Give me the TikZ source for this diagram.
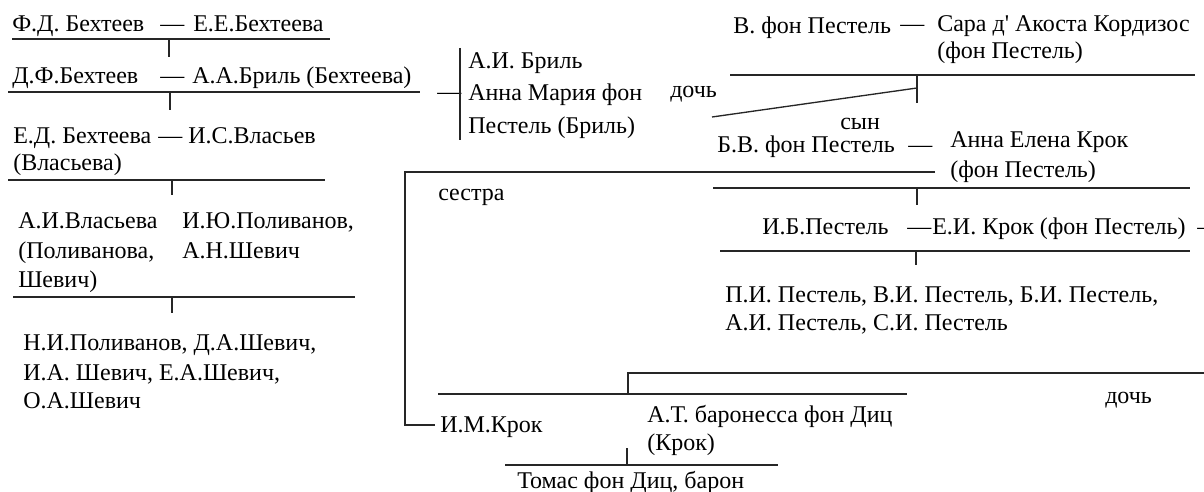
\documentclass[tikz,border=0pt]{standalone}
\usepackage{fontspec}
\setmainfont{Liberation Serif}[Ligatures=TeXOff]
\begin{document}
\begin{tikzpicture}[x=0.75pt,y=-0.75pt,
  txt/.style={anchor=base west,inner sep=0pt,font=\fontsize{18pt}{21pt}\selectfont,text=black},
  bar/.style={line width=1.3pt,draw=black!85}]
\useasboundingbox (0,0) rectangle (1204,492);
\clip (0,0) rectangle (1204,492);
% ---- Bekhteev line (left column)
\node[txt] (fd) at (12,32) {Ф.Д. Бехтеев};
\node[txt] (fdd) at (160,32) {—};
\node[txt] (ee) at (193,32) {Е.Е.Бехтеева};
\coordinate (l1a) at (12,39); \coordinate (l1b) at (330,39);
\coordinate (t1a) at (169,39); \coordinate (t1b) at (169,57);
\draw[bar] (l1a) -- (l1b); \draw[bar] (t1a) -- (t1b);
\node[txt] (df) at (12,84) {Д.Ф.Бехтеев};
\node[txt] (dfd) at (160,84) {—};
\node[txt] (aab) at (192,84) {А.А.Бриль (Бехтеева)};
\coordinate (l2a) at (8,92); \coordinate (l2b) at (420,92);
\coordinate (t2a) at (170,92); \coordinate (t2b) at (170,110);
\draw[bar] (l2a) -- (l2b); \draw[bar] (t2a) -- (t2b);
\node[txt] (ed) at (13,143) {Е.Д. Бехтеева};
\node[txt] (edd) at (158,143) {—};
\node[txt] (isv) at (188,143) {И.С.Власьев};
\node[txt] (ed2) at (13,171) {(Власьева)};
\coordinate (l3a) at (8,180); \coordinate (l3b) at (325,180);
\coordinate (t3a) at (172,180); \coordinate (t3b) at (172,195);
\draw[bar] (l3a) -- (l3b); \draw[bar] (t3a) -- (t3b);
\node[txt] (aiv1) at (18,228) {А.И.Власьева};
\node[txt] (aiv2) at (18,258) {(Поливанова,};
\node[txt] (aiv3) at (18,287) {Шевич)};
\node[txt] (iyp1) at (182,228) {И.Ю.Поливанов,};
\node[txt] (iyp2) at (182,258) {А.Н.Шевич};
\coordinate (l4a) at (13,297); \coordinate (l4b) at (355,297);
\coordinate (t4a) at (172,297); \coordinate (t4b) at (172,313);
\draw[bar] (l4a) -- (l4b); \draw[bar] (t4a) -- (t4b);
\node[txt] (ch1) at (23,350) {Н.И.Поливанов, Д.А.Шевич,};
\node[txt] (ch2) at (23,380) {И.А. Шевич, Е.А.Шевич,};
\node[txt] (ch3) at (23,408) {О.А.Шевич};
% ---- Bril
\node[txt] (brd) at (437,99) {—};
\coordinate (bva) at (460,48); \coordinate (bvb) at (460,140);
\draw[bar] (bva) -- (bvb);
\node[txt] (aib) at (468,69) {А.И. Бриль};
\node[txt] (amp1) at (468,101) {Анна Мария фон};
\node[txt] (amp2) at (468,133) {Пестель (Бриль)};
\node[txt] (doch1) at (670,98) {дочь};
% ---- von Pestel
\node[txt] (vp) at (733,34) {В. фон Пестель};
\node[txt] (vpd) at (900,32) {—};
\node[txt] (sara1) at (937,32) {Сара д' Акоста Кордизос};
\node[txt] (sara2) at (937,59) {(фон Пестель)};
\coordinate (l5a) at (730,75); \coordinate (l5b) at (1195,75);
\coordinate (t5a) at (917,75); \coordinate (t5b) at (917,103);
\coordinate (dg) at (917,88); \coordinate (dga) at (712,117);
\draw[bar] (l5a) -- (l5b); \draw[bar] (t5a) -- (t5b);
\draw[bar,line width=1pt] (dga) -- (dg);
\node[txt] (syn) at (840,129) {сын};
\node[txt] (bvp) at (717,152) {Б.В. фон Пестель};
\node[txt] (bvpd) at (908,152) {—};
\node[txt] (aek1) at (950,147) {Анна Елена Крок};
\node[txt] (aek2) at (950,177) {(фон Пестель)};
% frame (sister)
\coordinate (fa) at (935,172); \coordinate (fb) at (405,172);
\coordinate (fc) at (405,425); \coordinate (fd2) at (435,425);
\draw[bar] (fa) -- (fb) -- (fc) -- (fd2);
\node[txt] (sestra) at (438,200) {сестра};
\coordinate (l6a) at (713,188); \coordinate (l6b) at (1190,188);
\coordinate (t6a) at (917,188); \coordinate (t6b) at (917,205);
\draw[bar] (l6a) -- (l6b); \draw[bar] (t6a) -- (t6b);
\node[txt] (ibp) at (762,234) {И.Б.Пестель};
\node[txt] (ibpd) at (907,234) {—};
\node[txt] (eik) at (932,234) {Е.И. Крок (фон Пестель)};
\node[txt] (eikd) at (1197,234) {—};
\coordinate (l7a) at (720,251); \coordinate (l7b) at (1190,251);
\coordinate (t7a) at (916,251); \coordinate (t7b) at (916,265);
\draw[bar] (l7a) -- (l7b); \draw[bar] (t7a) -- (t7b);
\node[txt] (pi1) at (725,302) {П.И. Пестель, В.И. Пестель, Б.И. Пестель,};
\node[txt] (pi2) at (725,330) {А.И. Пестель, С.И. Пестель};
% ---- Krok / von Diz
\coordinate (l8a) at (1204,373); \coordinate (l8b) at (628,373);
\coordinate (l8c) at (628,394);
\draw[bar] (l8a) -- (l8b) -- (l8c);
\coordinate (l9a) at (438,394); \coordinate (l9b) at (907,394);
\draw[bar] (l9a) -- (l9b);
\node[txt] (doch2) at (1105,403) {дочь};
\node[txt] (imk) at (440,432) {И.М.Крок};
\node[txt] (atb1) at (647,422) {А.Т. баронесса фон Диц};
\node[txt] (atb2) at (647,450) {(Крок)};
\coordinate (t9a) at (627,448); \coordinate (t9b) at (627,465);
\draw[bar] (t9a) -- (t9b);
\coordinate (l10a) at (505,465); \coordinate (l10b) at (778,465);
\draw[bar] (l10a) -- (l10b);
\node[txt] (tfd) at (517,488) {Томас фон Диц, барон};
\end{tikzpicture}
\end{document}
